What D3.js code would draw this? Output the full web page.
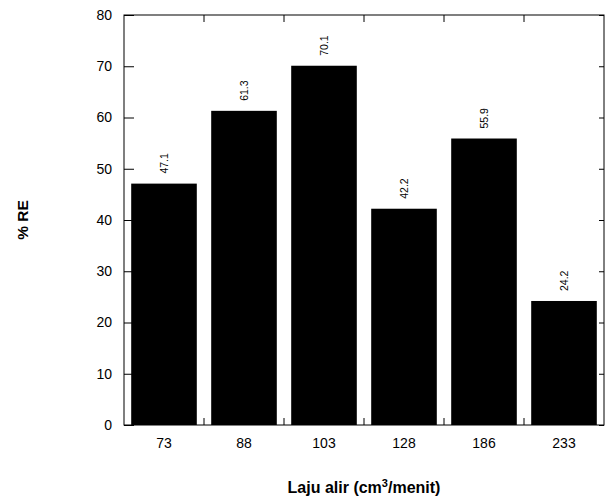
<!DOCTYPE html>
<html>
<head>
<meta charset="utf-8">
<script src="https://cdn.jsdelivr.net/npm/d3@7"></script>
<style>
  html, body { margin: 0; padding: 0; background: #fff; }
  svg { display: block; font-family: "Liberation Sans", Arial, sans-serif; }
</style>
</head>
<body>
<svg id="chart" width="606" height="496"></svg>
<script>
const categories = ["73", "88", "103", "128", "186", "233"];
const values = [47.1, 61.3, 70.1, 42.2, 55.9, 24.2];
const yTicks = [0, 10, 20, 30, 40, 50, 60, 70, 80];
const xTitle = "Laju alir (cm";
const yTitle = "% RE";

const svg = d3.select("#chart");
const pL = 124, pR = 604, pT = 15, pB = 425;

const x = d3.scaleBand().domain(categories).range([pL, pR]).paddingInner(0.18).paddingOuter(0.09);
const y = d3.scaleLinear().domain([0, 80]).range([pB, pT]);

// bars
svg.append("g").selectAll("rect").data(values).join("rect")
  .attr("x", (d, i) => x(categories[i]))
  .attr("y", d => y(d))
  .attr("width", x.bandwidth())
  .attr("height", d => y(0) - y(d))
  .attr("fill", "#000");

// frame
svg.append("rect").attr("x", pL).attr("y", pT).attr("width", pR - pL).attr("height", pB - pT)
  .attr("fill", "none").attr("stroke", "#000").attr("stroke-width", 1);

// left axis
const yAxis = svg.append("g").attr("transform", `translate(${pL},0)`)
  .call(d3.axisLeft(y).tickValues(yTicks).tickSizeInner(-10).tickSizeOuter(0).tickPadding(12));
yAxis.select(".domain").remove();
yAxis.selectAll("text").attr("font-size", 14).attr("fill", "#000").attr("font-family", "Liberation Sans, Arial, sans-serif");

// right ticks
const yAxisR = svg.append("g").attr("transform", `translate(${pR},0)`)
  .call(d3.axisRight(y).tickValues(yTicks).tickSizeInner(-5).tickSizeOuter(0).tickFormat(""));
yAxisR.select(".domain").remove();

// boundary ticks (bottom & top) between categories
const step = x.step();
const bounds = categories.slice(1).map(c => x(c) - x.paddingInner() * step / 2);
svg.append("g").selectAll("line").data(bounds).join("line")
  .attr("x1", d => d).attr("x2", d => d).attr("y1", pB).attr("y2", pB - 7)
  .attr("stroke", "#000");
svg.append("g").selectAll("line").data(bounds).join("line")
  .attr("x1", d => d).attr("x2", d => d).attr("y1", pT).attr("y2", pT + 7)
  .attr("stroke", "#000");

// x labels
const xAxis = svg.append("g").attr("transform", `translate(0,${pB})`)
  .call(d3.axisBottom(x).tickSize(0).tickPadding(13));
xAxis.select(".domain").remove();
xAxis.selectAll("text").attr("font-size", 14).attr("fill", "#000").attr("font-family", "Liberation Sans, Arial, sans-serif");

// value labels
svg.append("g").selectAll("text").data(values).join("text")
  .attr("transform", (d, i) => `translate(${x(categories[i]) + x.bandwidth() / 2 + 4},${y(d) - 10}) rotate(-90)`)
  .attr("text-anchor", "start")
  .attr("font-size", 10.5)
  .text(d => d.toFixed(1));

// axis titles
const xt = svg.append("text").attr("x", 364).attr("y", 493).attr("text-anchor", "middle")
  .attr("font-size", 16).attr("font-weight", "bold");
xt.append("tspan").text(xTitle);
xt.append("tspan").attr("font-size", 11).attr("dy", -6).text("3");
xt.append("tspan").attr("dy", 6).text("/menit)");

svg.append("text").attr("transform", "translate(28,220) rotate(-90)").attr("text-anchor", "middle")
  .attr("font-size", 15.5).attr("font-weight", "bold").text(yTitle);
</script>
</body>
</html>
